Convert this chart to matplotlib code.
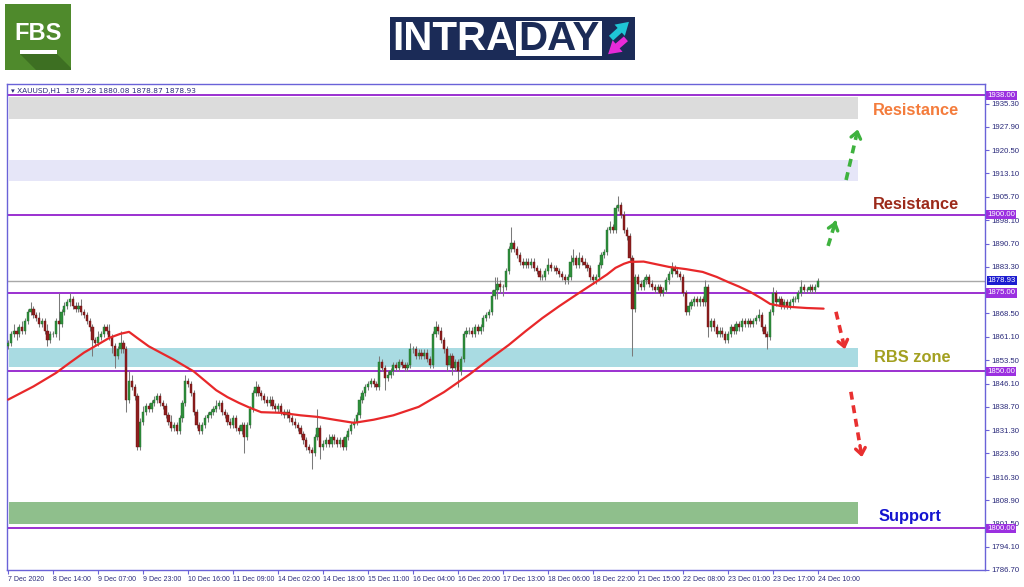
import matplotlib
matplotlib.use('Agg')
import matplotlib.pyplot as plt
from matplotlib.patches import Rectangle, Polygon
from matplotlib.transforms import blended_transform_factory

# hourly closes, XAUUSD H1, bar 0 = 7 Dec 2020 evening
closes = [
    1859, 1862, 1863, 1862, 1864, 1863, 1866, 1869, 1870, 1868,
    1867, 1865, 1866, 1863, 1860, 1862, 1862, 1866, 1865, 1869,
    1871, 1872, 1873, 1871, 1870, 1871, 1869, 1868, 1866, 1864,
    1860, 1859, 1861, 1862, 1864, 1863, 1861, 1858, 1855, 1857,
    1859, 1857, 1841, 1847, 1845, 1842, 1826, 1834, 1837, 1839,
    1838, 1840, 1841, 1842, 1840, 1839, 1836, 1834, 1832, 1833,
    1831, 1835, 1840, 1847, 1846, 1843, 1837, 1833, 1831, 1833,
    1835, 1836, 1837, 1838, 1839, 1840, 1837, 1836, 1834, 1833,
    1835, 1832, 1831, 1833, 1829, 1833, 1838, 1843, 1845, 1843,
    1842, 1841, 1840, 1841, 1839, 1838, 1839, 1837, 1836, 1837,
    1835, 1834, 1833, 1832, 1830, 1828, 1826, 1825, 1824, 1829,
    1832, 1826, 1827, 1828, 1827, 1829, 1828, 1827, 1828, 1826,
    1829, 1831, 1833, 1834, 1836, 1841, 1843, 1845, 1846, 1847,
    1846, 1845, 1853, 1851, 1848, 1849, 1850, 1852, 1851, 1853,
    1852, 1851, 1852, 1857, 1857, 1855, 1856, 1855, 1856, 1854,
    1852, 1862, 1864, 1863, 1860, 1857, 1852, 1855, 1851, 1853,
    1850, 1854, 1862, 1863, 1863, 1862, 1864, 1863, 1864, 1867,
    1868, 1869, 1874, 1876, 1878, 1877, 1877, 1882, 1889, 1891,
    1889, 1887, 1885, 1884, 1885, 1884, 1885, 1883, 1882, 1880,
    1880, 1882, 1884, 1883, 1883, 1882, 1881, 1880, 1879, 1880,
    1885, 1886, 1884, 1886, 1885, 1884, 1883, 1880, 1879, 1880,
    1884, 1887, 1888, 1895, 1896, 1895, 1902, 1903, 1900, 1895,
    1893, 1886, 1870, 1880, 1878, 1877, 1879, 1880, 1878, 1877,
    1876, 1877, 1875, 1876, 1879, 1881, 1883, 1882, 1881, 1880,
    1875, 1869, 1871, 1872, 1873, 1872, 1873, 1872, 1877, 1864,
    1866, 1864, 1862, 1863, 1862, 1860, 1862, 1864, 1863, 1865,
    1864, 1866, 1865, 1866, 1865, 1866, 1867, 1868, 1864, 1862,
    1861, 1869, 1875, 1872, 1873, 1871, 1872, 1871, 1872, 1873,
    1873, 1875, 1877, 1876, 1876, 1877, 1876, 1877, 1878.93,
]
first_open = 1858

# wick lengths above / below the body
wick_up = [
    1, 1, 2, 1, 1, 2, 1, 1, 2, 1,  1, 2, 1, 1, 2, 1, 1, 1, 9, 1,
    1, 1, 2, 1, 1, 1, 2, 1, 1, 1,  1, 1, 2, 1, 1, 1, 2, 1, 1, 1,
    4, 1, 1, 3, 2, 1, 1, 1, 2, 1,  1, 1, 1, 1, 1, 1, 1, 1, 2, 1,
    1, 1, 1, 2, 1, 1, 1, 1, 1, 1,  1, 1, 1, 1, 2, 1, 1, 1, 1, 1,
    1, 1, 1, 1, 1, 1, 1, 1, 2, 1,  1, 1, 1, 1, 1, 1, 1, 1, 1, 1,
    1, 1, 1, 1, 1, 1, 1, 1, 1, 1,  6, 1, 1, 1, 2, 1, 1, 1, 1, 1,
    1, 1, 1, 1, 1, 1, 1, 1, 1, 1,  1, 1, 2, 1, 1, 1, 1, 1, 1, 1,
    1, 1, 1, 2, 1, 1, 1, 1, 1, 1,  1, 1, 2, 1, 1, 1, 1, 1, 1, 1,
    1, 1, 1, 1, 1, 1, 1, 1, 1, 1,  1, 1, 2, 4, 2, 1, 1, 1, 1, 5,
    1, 1, 1, 1, 1, 1, 1, 1, 1, 1,  1, 1, 2, 1, 1, 1, 1, 1, 1, 1,
    2, 3, 1, 2, 1, 1, 1, 1, 1, 1,  1, 1, 1, 1, 2, 1, 1, 3, 1, 1,
    1, 1, 1, 1, 1, 1, 1, 1, 1, 1,  1, 1, 1, 1, 1, 1, 2, 1, 1, 1,
    1, 1, 1, 1, 1, 1, 1, 1, 2, 1,  1, 1, 1, 1, 1, 1, 1, 1, 1, 1,
    1, 1, 1, 1, 1, 1, 1, 2, 1, 1,  1, 1, 2, 1, 1, 1, 1, 1, 1, 1,
    1, 1, 2, 1, 1, 1, 1, 1, 0.8,
]
wick_dn = [
    1, 1, 1, 2, 1, 1, 1, 1, 1, 1,  1, 1, 1, 1, 2, 1, 1, 1, 5, 1,
    1, 1, 1, 1, 1, 1, 1, 1, 1, 1,  5, 1, 1, 1, 1, 1, 1, 2, 4, 1,
    1, 1, 4, 1, 1, 1, 1, 1, 1, 1,  1, 1, 1, 1, 1, 1, 1, 1, 1, 1,
    1, 1, 1, 1, 1, 1, 1, 1, 1, 1,  1, 1, 1, 1, 1, 1, 1, 1, 1, 1,
    1, 1, 1, 1, 5, 1, 1, 1, 1, 1,  1, 1, 1, 1, 1, 1, 1, 1, 1, 1,
    1, 1, 1, 1, 1, 1, 1, 1, 5, 1,  1, 4, 1, 1, 1, 1, 1, 1, 1, 1,
    1, 1, 1, 1, 1, 1, 1, 1, 1, 1,  1, 1, 1, 1, 4, 1, 1, 1, 1, 1,
    1, 1, 1, 1, 1, 1, 1, 1, 1, 1,  1, 1, 1, 1, 1, 1, 2, 1, 2, 1,
    5, 1, 1, 1, 1, 1, 1, 1, 1, 1,  1, 1, 1, 1, 3, 2, 3, 1, 1, 1,
    1, 1, 1, 1, 1, 1, 1, 1, 1, 1,  1, 1, 1, 1, 1, 1, 1, 1, 1, 1,
    1, 1, 1, 1, 1, 1, 1, 1, 1, 1,  1, 1, 1, 1, 1, 1, 1, 1, 1, 1,
    1, 1, 15, 1, 2, 1, 1, 1, 1, 1,  1, 1, 1, 1, 1, 1, 1, 1, 1, 1,
    1, 1, 1, 1, 1, 1, 1, 1, 1, 3,  1, 1, 1, 1, 1, 1, 1, 1, 1, 1,
    1, 1, 1, 1, 1, 1, 1, 1, 1, 1,  4, 1, 1, 1, 1, 1, 1, 1, 1, 1,
    1, 1, 1, 1, 1, 1, 1, 1, 0.06,
]

# red moving average, read at a few bars
ma_bar = [0, 9, 17, 22, 27, 32, 36, 40, 43, 46, 50, 55, 59, 66, 70, 74, 78,
          82, 86, 90, 97, 104, 110, 116, 123, 130, 137, 146, 155, 164, 171,
          178, 184, 190, 196, 202, 209, 213, 216, 219, 221, 226, 235, 241,
          247, 252, 256, 260, 264, 268, 271, 275, 279, 284, 290]
ma_val = [1841, 1845.2, 1849.5, 1852.8, 1856, 1858.6, 1860.7, 1862.0, 1862.6,
          1860.6, 1858, 1855.6, 1853.7, 1850, 1847.0, 1844, 1841.8, 1840,
          1838.4, 1837, 1836.8, 1836, 1835.5, 1834.6, 1833.6, 1834.6, 1836,
          1838.7, 1843.4, 1849, 1853.8, 1858.4, 1862.8, 1867, 1870.8, 1874.4,
          1878.5, 1880.9, 1883, 1884.3, 1884.9, 1885, 1883.3, 1882.6, 1881.7,
          1880.1, 1878.5, 1877.0, 1875.3, 1873.2, 1871.5, 1870.8, 1870.5,
          1870.2, 1870]

date_labels = ['7 Dec 2020', '8 Dec 14:00', '9 Dec 07:00', '9 Dec 23:00',
               '10 Dec 16:00', '11 Dec 09:00', '14 Dec 02:00', '14 Dec 18:00',
               '15 Dec 11:00', '16 Dec 04:00', '16 Dec 20:00', '17 Dec 13:00',
               '18 Dec 06:00', '18 Dec 22:00', '21 Dec 15:00', '22 Dec 08:00',
               '23 Dec 01:00', '23 Dec 17:00', '24 Dec 10:00']
price_ticks = [1935.30, 1927.90, 1920.50, 1913.10, 1905.70, 1898.10, 1890.70,
               1883.30, 1868.50, 1861.10, 1853.50, 1846.10, 1838.70,
               1831.30, 1823.90, 1816.30, 1808.90, 1801.50, 1794.10, 1786.70]
levels = [1938.00, 1900.00, 1875.00, 1850.00, 1800.00]
last_price = 1878.93
zones = [(1930.4, 1937.4, '#dcdcdc'), (1910.6, 1917.3, '#e6e6f8'),
         (1851.3, 1857.3, '#a9dbe2'), (1801.3, 1808.3, '#8fbf8c')]
zone_end = 302
notes = [('Resistance', 323.0, 1933.3, '#f47c3c'),
         ('Resistance', 323.0, 1903.3, '#9c2a1a'),
         ('RBS zone', 321.4, 1854.3, '#a3a020'),
         ('Support', 320.7, 1803.9, '#1414d0')]
arrows_up = [((291.6, 1890.0), (294.6, 1898.8)), ((298.0, 1911.0), (302.4, 1928.0))]
arrows_dn = [((294.4, 1869.0), (297.8, 1856.2)), ((299.7, 1843.5), (303.8, 1821.8))]

W, H = 1024, 587
fig = plt.figure(figsize=(W / 100, H / 100), dpi=100)
fig.patch.set_facecolor('white')

ax = fig.add_axes([7 / W, 1 - 570 / H, 978 / W, 486 / H])
ax.set_xlim(-0.4, 347.4)
ax.set_ylim(1786.7, 1941.6)
frame = '#6a62d8'
for s in ax.spines.values():
    s.set_color(frame)
    s.set_linewidth(1.0)

for lo, hi, col in zones:
    ax.add_patch(Rectangle((0.3, lo), zone_end, hi - lo, fc=col, ec='none', zorder=1))

ax.axhline(last_price, color='#a8a8a8', lw=1.0, zorder=2)
for lv in levels:
    ax.axhline(lv, color='#9b30d0', lw=1.4, zorder=2)

# candles
opens = [first_open] + closes[:-1]
n = len(closes)
for i in range(n):
    o, c = opens[i], closes[i]
    top, bot = max(o, c), min(o, c)
    ax.vlines(i, bot - wick_dn[i], top + wick_up[i], color='#7a7a7a', lw=0.75, zorder=3)
up = [i for i in range(n) if closes[i] >= opens[i]]
dn = [i for i in range(n) if closes[i] < opens[i]]
ax.bar(up, [closes[i] - opens[i] for i in up], bottom=[opens[i] for i in up],
       width=0.8, color='#2f8f3c', ec='#1f6a2a', lw=0.3, zorder=4)
ax.bar(dn, [closes[i] - opens[i] for i in dn], bottom=[opens[i] for i in dn],
       width=0.8, color='#8e1f1f', ec='#6a1010', lw=0.3, zorder=4)

ax.plot(ma_bar, ma_val, color='#e8282a', lw=1.6, zorder=5,
        solid_capstyle='round', solid_joinstyle='round')

# dashed arrows
for (x0, y0), (x1, y1) in arrows_up + arrows_dn:
    col = '#3fb23f' if y1 > y0 else '#e83030'
    ax.plot([x0, x0 + (x1 - x0) * 0.8], [y0, y0 + (y1 - y0) * 0.8], color=col,
            lw=2.6, ls=(0, (2.2, 1.6)), zorder=6)
    ax.annotate('', xy=(x1, y1), xytext=(x0 + (x1 - x0) * 0.75, y0 + (y1 - y0) * 0.75),
                arrowprops=dict(arrowstyle='->,head_length=0.45,head_width=0.35',
                                color=col, lw=2.4), zorder=6)

for txt, x, y, col in notes:
    ax.text(x, y, txt, color=col, fontsize=11.8, fontweight='bold',
            family='Liberation Sans', ha='center', va='center', zorder=6)

# axis ticks
ax.yaxis.tick_right()
ax.set_yticks(price_ticks)
ax.set_yticklabels(['%.2f' % v for v in price_ticks])
ax.set_xticks(range(0, 16 * len(date_labels), 16))
ax.set_xticklabels(date_labels)
ax.tick_params(axis='both', length=3, width=0.8, color=frame, labelsize=5.6,
               labelcolor='#2a2a7a', pad=1.5)
ax.tick_params(axis='x', labelsize=5.0)
for lbl in ax.get_xticklabels() + ax.get_yticklabels():
    lbl.set_family('Liberation Sans')
for lbl in ax.get_xticklabels():
    lbl.set_ha('left')

tr = blended_transform_factory(ax.transAxes, ax.transData)
for lv in levels:
    ax.text(1.0025, lv, '%.2f' % lv, transform=tr, fontsize=5.6, color='white',
            va='center', ha='left', clip_on=False, zorder=8, family='Liberation Sans',
            bbox=dict(boxstyle='square,pad=0.15', fc='#9b30e0', ec='none'))
ax.text(1.0025, last_price, '%.2f' % last_price, transform=tr, fontsize=5.6,
        color='white', va='center', ha='left', clip_on=False, zorder=8,
        family='Liberation Sans',
        bbox=dict(boxstyle='square,pad=0.12', fc='#1c1cd0', ec='none'))

ax.text(0.004, 0.992, '\u25be XAUUSD,H1  1879.28 1880.08 1878.87 1878.93',
        transform=ax.transAxes, fontsize=5.3, color='#2a2a7a', va='top', ha='left')

# logos on a pixel overlay
lg = fig.add_axes([0, 0, 1, 1], zorder=10)
lg.set_xlim(0, W)
lg.set_ylim(H, 0)
lg.axis('off')
lg.patch.set_alpha(0)
lg.add_patch(Rectangle((5, 4), 66, 66, fc='#4f8a2c', ec='none'))
lg.add_patch(Polygon([(20, 54), (57, 54), (71, 68), (71, 70), (36, 70)], fc='#3d6f22', ec='none'))
lg.text(38.5, 34, 'FBS', color='white', fontsize=17, fontweight='bold',
        family='Liberation Sans', ha='center', va='center')
lg.add_patch(Rectangle((20, 50), 37, 4, fc='white', ec='none'))

lg.add_patch(Rectangle((390, 17), 245, 43, fc='#1b2b57', ec='none'))
lg.text(454, 39, 'INTRA', color='white', fontsize=29, fontweight='bold',
        family='Liberation Sans', ha='center', va='center')
lg.add_patch(Rectangle((516, 21), 86, 35, fc='white', ec='none'))
lg.text(559, 39, 'DAY', color='#1b2b57', fontsize=29, fontweight='bold',
        family='Liberation Sans', ha='center', va='center')
lg.annotate('', xy=(631, 20), xytext=(609, 40),
            arrowprops=dict(arrowstyle='simple,head_width=1.1,head_length=0.9,tail_width=0.45',
                            color='#1fc6d6', lw=0))
lg.annotate('', xy=(606, 56), xytext=(628, 37),
            arrowprops=dict(arrowstyle='simple,head_width=1.1,head_length=0.9,tail_width=0.45',
                            color='#e82ad8', lw=0))

fig.savefig('out.png', dpi=100)
